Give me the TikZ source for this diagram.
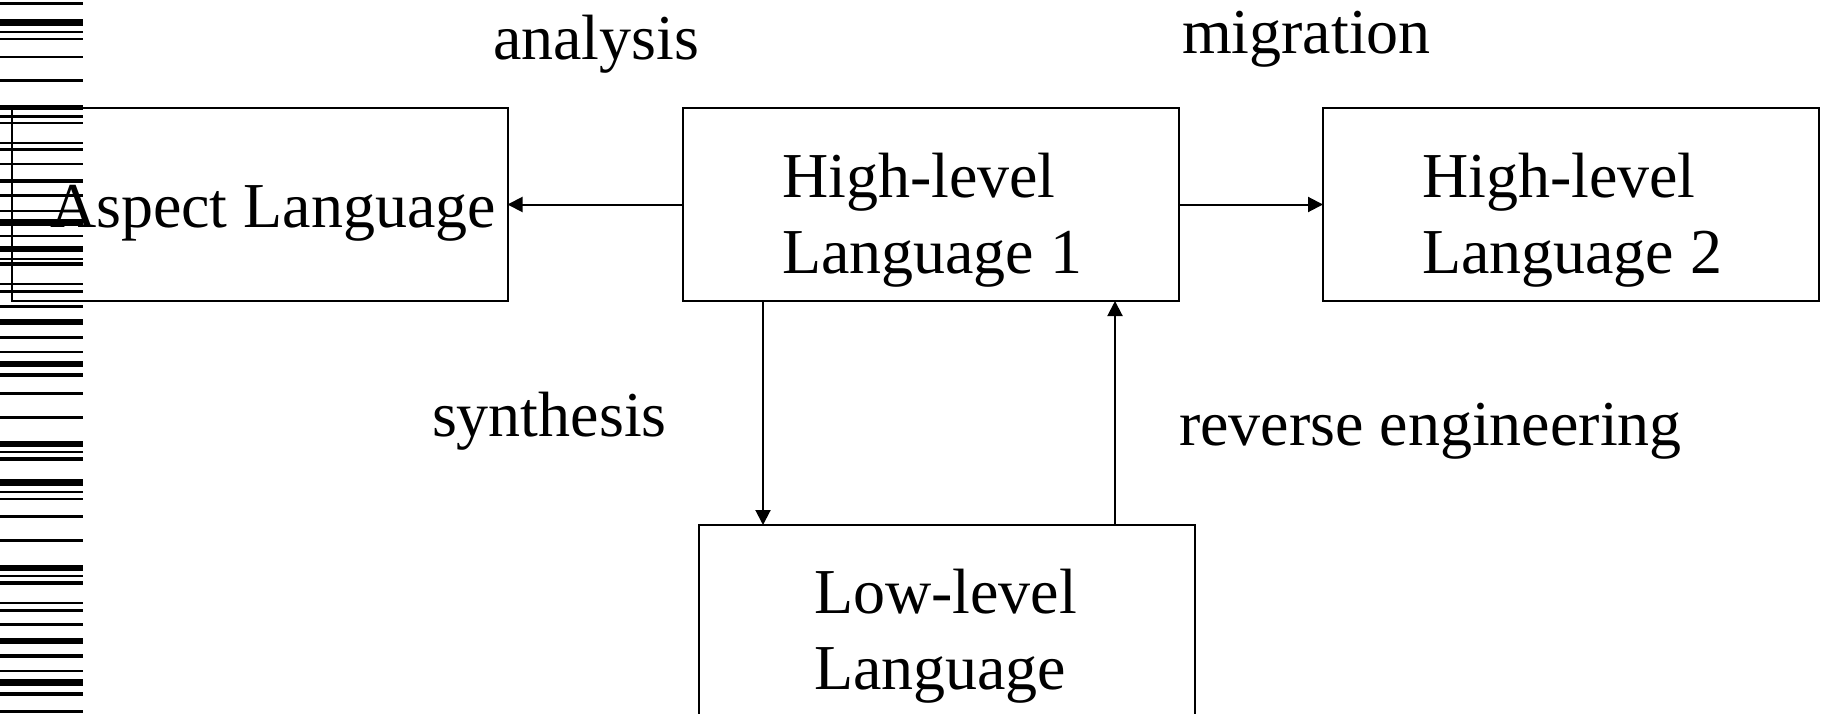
\documentclass[tikz,border=0pt]{standalone}
\usepackage{fontspec}
\setmainfont{Liberation Serif}
\usetikzlibrary{arrows.meta}
\newcommand{\twoln}[2]{\begin{tabular}[t]{@{}l@{}}#1\\#2\end{tabular}}
\begin{document}
\begin{tikzpicture}[x=1pt,y=-1pt,
  box/.style={draw, line width=2pt, minimum width=496pt, minimum height=193pt, inner sep=0pt, outer sep=0pt, anchor=north west},
  lbl/.style={anchor=base west, inner sep=0pt, outer sep=0pt, font=\fontsize{64}{76}\selectfont},
  arr/.style={line width=2pt, -{Triangle[length=15pt,width=15pt]}}]
\useasboundingbox (0,0) rectangle (1827,714);
\clip (0,0) rectangle (1827,714);
% barcode stripes at the left edge
\foreach \c/\t in {3.2/3, 23/7, 32/2, 39/2, 57/2, 80.5/2.5, 108/5, 116.5/2.5, 123/2.5,
  143/2, 149.5/3, 164/1.5, 181/4.5, 195.5/3, 211/2, 222.5/7, 236/2, 249/6, 259/2,
  264/3.5, 284/2, 291/3, 306.5/2.5, 322/5.5, 337.5/3.5, 352/2, 364/6, 375/3.5,
  393.5/2.5, 417.5/2.5, 444/6, 452/2, 459/3.5, 482.5/7, 492/1.5, 499/2.5, 516.5/2.5,
  540.5/2.5, 568/6, 576/2, 583/3.5, 603/2, 610.5/3.5, 624.5/2.5, 641/6, 656/4,
  671/2, 682.5/7, 694/4, 711.5/3}
  \fill (0,{\c-\t/2}) rectangle (83,{\c+\t/2});
% boxes
\node[box] (asp) at (11.5,108) {};
\node[box] (hl1) at (683,108) {};
\node[box] (hl2) at (1323,108) {};
\node[box, minimum height=240pt] (ll) at (699,525) {};
% box texts
\node[lbl] (aspt) at (50,227) {Aspect Language};
\node[lbl] (hl1t) at (782,197) {\twoln{High-level}{Language 1}};
\node[lbl] (hl2t) at (1422,197) {\twoln{High-level}{Language 2}};
\node[lbl] (llt) at (814,613) {\twoln{Low-level}{Language}};
% connector labels
\node[lbl] (lana) at (493,60) {analysis};
\node[lbl] (lmig) at (1182,54) {migration};
\node[lbl] (lsyn) at (432,436) {synthesis};
\node[lbl] (lrev) at (1179,445) {reverse engineering};
% connectors
\draw[arr] (hl1.west) -- (asp.east);
\draw[arr] (hl1.east) -- (hl2.west);
\draw[arr] ([xshift=80pt]hl1.south west) -- ([xshift=80pt]hl1.south west |- ll.north);
\draw[arr] ([xshift=-80pt]ll.north east) -- ([xshift=-80pt]ll.north east |- hl1.south);
\end{tikzpicture}
\end{document}
